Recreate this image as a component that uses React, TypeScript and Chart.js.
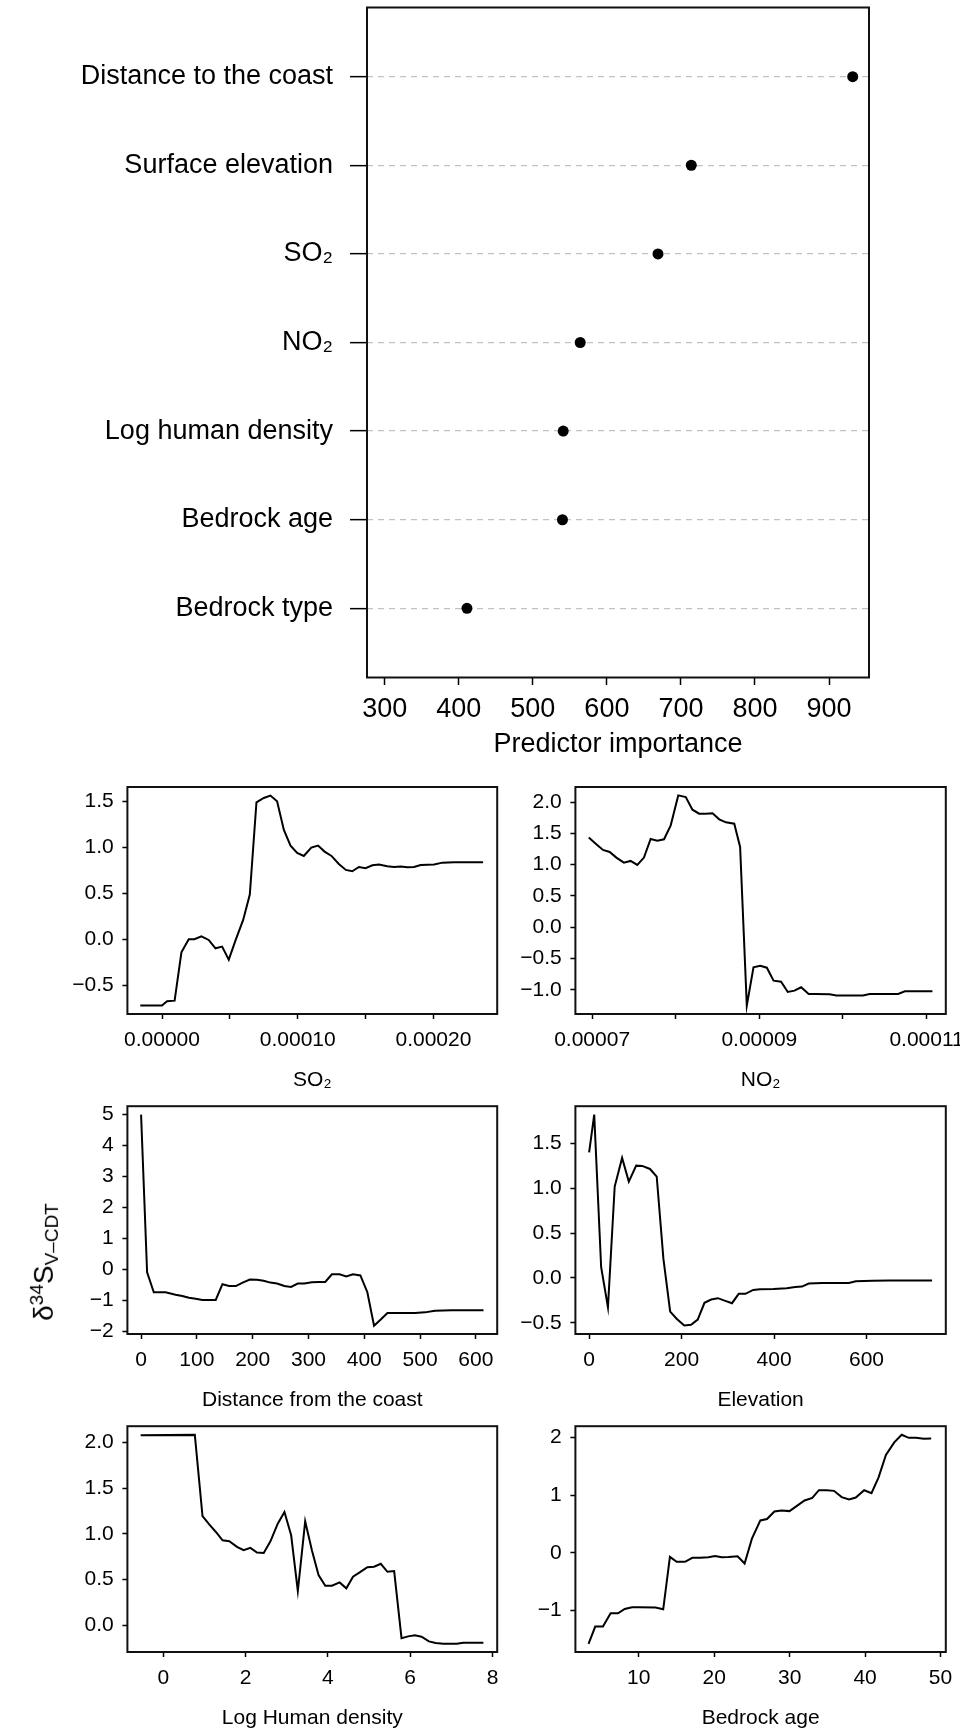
import React, { useEffect, useRef } from "react";
import { Chart, registerables } from "chart.js";

Chart.register(...registerables);

const FONT = "'Liberation Sans', Arial, Helvetica, sans-serif";

// ---------- Top chart: predictor importance ----------
const IMPORTANCE_LABELS = [
  "Distance to the coast",
  "Surface elevation",
  "SO₂",
  "NO₂",
  "Log human density",
  "Bedrock age",
  "Bedrock type",
];
const IMPORTANCE_VALUES = [932, 714, 669, 564, 541, 540, 411];
const IMPORTANCE_TICKS = [300, 400, 500, 600, 700, 800, 900];

// ---------- Partial dependence panels ----------
const SO2_X = [
  -1.6e-5, 0, 0.37e-5, 0.93e-5, 1.43e-5, 1.97e-5, 2.39e-5, 2.9e-5, 3.44e-5, 3.94e-5,
  4.43e-5, 4.92e-5, 5.41e-5, 5.98e-5, 6.47e-5, 6.96e-5, 7.5e-5, 7.99e-5, 8.48e-5, 8.98e-5,
  9.47e-5, 9.96e-5, 10.45e-5, 11.0e-5, 11.5e-5, 11.98e-5, 12.49e-5, 13.03e-5, 13.55e-5, 14.02e-5,
  14.51e-5, 15.0e-5, 15.5e-5, 15.99e-5, 16.6e-5, 17.1e-5, 17.59e-5, 18.08e-5, 18.57e-5, 19.06e-5,
  20.05e-5, 20.66e-5, 21.52e-5, 22.5e-5, 23.66e-5,
];
const SO2_Y = [
  -0.72, -0.72, -0.674, -0.667, -0.141, 0.0, 0.0, 0.033, -0.007, -0.098,
  -0.08, -0.221, -0.014, 0.21, 0.486, 1.489, 1.536, 1.562, 1.5, 1.188,
  1.018, 0.938, 0.906, 0.996, 1.018, 0.953, 0.906, 0.819, 0.754, 0.739,
  0.786, 0.772, 0.804, 0.812, 0.793, 0.786, 0.79, 0.783, 0.786, 0.808,
  0.812, 0.833, 0.837, 0.837, 0.837,
];
const SO2_XTICKS = [0, 5e-5, 1e-4, 1.5e-4, 2e-4];
const SO2_XTICK_LABELS = ["0.00000", "", "0.00010", "", "0.00020"];
const SO2_YTICKS = [-0.5, 0, 0.5, 1, 1.5];
const SO2_YTICK_LABELS = ["−0.5", "0.0", "0.5", "1.0", "1.5"];

const NO2_X = [
  6.96e-5, 7.05e-5, 7.13e-5, 7.21e-5, 7.29e-5, 7.38e-5, 7.46e-5, 7.54e-5, 7.62e-5, 7.7e-5,
  7.78e-5, 7.86e-5, 7.94e-5, 8.03e-5, 8.12e-5, 8.2e-5, 8.28e-5, 8.36e-5, 8.44e-5, 8.52e-5,
  8.6e-5, 8.7e-5, 8.77e-5, 8.85e-5, 8.93e-5, 9.01e-5, 9.09e-5, 9.17e-5, 9.26e-5, 9.34e-5,
  9.42e-5, 9.5e-5, 9.59e-5, 9.67e-5, 9.84e-5, 9.92e-5, 10.08e-5, 10.24e-5, 10.32e-5, 10.48e-5,
  10.66e-5, 10.74e-5, 10.92e-5, 11.07e-5,
];
const NO2_Y = [
  1.432, 1.326, 1.235, 1.203, 1.113, 1.033, 1.06, 0.996, 1.113, 1.41,
  1.384, 1.405, 1.628, 2.106, 2.08, 1.878, 1.814, 1.814, 1.82, 1.724,
  1.676, 1.655, 1.283, -1.25, -0.639, -0.613, -0.645, -0.852, -0.868, -1.032,
  -1.011, -0.958, -1.064, -1.064, -1.07, -1.09, -1.09, -1.09, -1.064, -1.064,
  -1.064, -1.022, -1.022, -1.022,
];
const NO2_XTICKS = [7e-5, 8e-5, 9e-5, 10e-5, 11e-5];
const NO2_XTICK_LABELS = ["0.00007", "", "0.00009", "", "0.00011"];
const NO2_YTICKS = [-1, -0.5, 0, 0.5, 1, 1.5, 2];
const NO2_YTICK_LABELS = ["−1.0", "−0.5", "0.0", "0.5", "1.0", "1.5", "2.0"];

const DIST_X = [
  0, 10.8, 22.8, 43.8, 61.8, 73.8, 85.8, 97.8, 109.8, 133.8,
  145.8, 157.8, 169.8, 183, 195, 207.6, 219.6, 231.5, 243.6, 256.8,
  268.8, 280.8, 292.7, 306, 318, 330, 342, 355.7, 367.7, 379.7,
  393, 405.5, 417.5, 429.5, 441.5, 460.7, 490.7, 508.7, 526.7, 556.7,
  586.7, 613.7,
];
const DIST_Y = [
  5.0, -0.09, -0.73, -0.73, -0.81, -0.85, -0.91, -0.94, -0.98, -0.98,
  -0.47, -0.53, -0.53, -0.41, -0.32, -0.33, -0.36, -0.42, -0.45, -0.53,
  -0.56, -0.45, -0.45, -0.41, -0.4, -0.4, -0.15, -0.15, -0.22, -0.15,
  -0.19, -0.73, -1.81, -1.61, -1.4, -1.4, -1.4, -1.38, -1.33, -1.31,
  -1.31, -1.31,
];
const DIST_XTICKS = [0, 100, 200, 300, 400, 500, 600];
const DIST_XTICK_LABELS = ["0", "100", "200", "300", "400", "500", "600"];
const DIST_YTICKS = [-2, -1, 0, 1, 2, 3, 4, 5];
const DIST_YTICK_LABELS = ["−2", "−1", "0", "1", "2", "3", "4", "5"];

const ELEV_X = [
  0, 11, 26, 40.7, 55.3, 71.3, 85.8, 101.8, 114.9, 131.6,
  146.2, 160.7, 175.3, 189.8, 205.8, 220.4, 234.9, 249.5, 264, 278.5,
  294.5, 309, 323.6, 338.2, 354.9, 369.5, 398.5, 427.6, 445.8, 460.4,
  475, 504, 533, 562, 576.7, 613, 649.5, 685.8, 741.8,
];
const ELEV_Y = [
  1.4, 1.819, 0.12, -0.326, 1.018, 1.337, 1.073, 1.251, 1.248, 1.214,
  1.129, 0.212, -0.374, -0.456, -0.53, -0.522, -0.463, -0.277, -0.24, -0.225,
  -0.255, -0.281, -0.177, -0.177, -0.133, -0.125, -0.122, -0.114, -0.1, -0.096,
  -0.062, -0.055, -0.055, -0.055, -0.036, -0.032, -0.029, -0.029, -0.029,
];
const ELEV_XTICKS = [0, 200, 400, 600];
const ELEV_XTICK_LABELS = ["0", "200", "400", "600"];
const ELEV_YTICKS = [-0.5, 0, 0.5, 1, 1.5];
const ELEV_YTICK_LABELS = ["−0.5", "0.0", "0.5", "1.0", "1.5"];

const HUMAN_X = [
  -0.553, 0.764, 0.951, 1.114, 1.276, 1.439, 1.602, 1.789, 1.951, 2.114,
  2.276, 2.439, 2.602, 2.78, 2.943, 3.106, 3.268, 3.447, 3.61, 3.772,
  3.935, 4.098, 4.285, 4.447, 4.61, 4.772, 4.959, 5.122, 5.285, 5.447,
  5.61, 5.789, 5.951, 6.114, 6.276, 6.455, 6.618, 6.805, 7.13, 7.293,
  7.577, 7.78,
];
const HUMAN_Y = [
  2.08, 2.083, 1.194, 1.103, 1.02, 0.929, 0.918, 0.857, 0.82, 0.846,
  0.795, 0.791, 0.918, 1.111, 1.238, 0.984, 0.374, 1.136, 0.82, 0.548,
  0.432, 0.432, 0.468, 0.403, 0.53, 0.577, 0.635, 0.639, 0.672, 0.584,
  0.592, -0.142, -0.123, -0.112, -0.127, -0.178, -0.196, -0.203, -0.203, -0.192,
  -0.192, -0.192,
];
const HUMAN_XTICKS = [0, 2, 4, 6, 8];
const HUMAN_XTICK_LABELS = ["0", "2", "4", "6", "8"];
const HUMAN_YTICKS = [0, 0.5, 1, 1.5, 2];
const HUMAN_YTICK_LABELS = ["0.0", "0.5", "1.0", "1.5", "2.0"];

const BEDROCK_X = [
  3.34, 4.23, 5.25, 6.27, 7.25, 8.14, 9.11, 10, 12.22, 13.24,
  14.13, 15.02, 16.13, 17.1, 18.12, 19.23, 20.12, 21.0, 21.9, 23.1,
  24.03, 25.0, 26.12, 27.0, 27.98, 28.91, 29.98, 30.87, 31.98, 33.0,
  33.88, 34.9, 35.88, 36.9, 37.88, 38.77, 39.88, 40.85, 41.79, 42.76,
  43.87, 44.85, 45.78, 46.76, 47.78, 48.76,
];
const BEDROCK_Y = [
  -1.575, -1.276, -1.276, -1.046, -1.046, -0.971, -0.943, -0.943, -0.948, -0.977,
  -0.069, -0.155, -0.155, -0.086, -0.086, -0.075, -0.052, -0.075, -0.069, -0.057,
  -0.184, 0.247, 0.563, 0.586, 0.718, 0.736, 0.724, 0.805, 0.908, 0.954,
  1.086, 1.086, 1.075, 0.966, 0.925, 0.96, 1.086, 1.034, 1.31, 1.695,
  1.914, 2.046, 1.994, 1.994, 1.977, 1.983,
];
const BEDROCK_XTICKS = [10, 20, 30, 40, 50];
const BEDROCK_XTICK_LABELS = ["10", "20", "30", "40", "50"];
const BEDROCK_YTICKS = [-1, 0, 1, 2];
const BEDROCK_YTICK_LABELS = ["−1", "0", "1", "2"];

// ---------- helpers ----------
const boxPlugin = {
  id: "frameBox",
  afterDraw(chart: any) {
    const { ctx, chartArea: a } = chart;
    ctx.save();
    ctx.strokeStyle = "#111";
    ctx.lineWidth = 2;
    ctx.strokeRect(a.left, a.top, a.right - a.left, a.bottom - a.top);
    ctx.restore();
  },
};

function pairs(xs: number[], ys: number[]) {
  const n = Math.min(xs.length, ys.length);
  const out: { x: number; y: number }[] = [];
  for (let i = 0; i < n; i++) out.push({ x: xs[i], y: ys[i] });
  return out;
}

function ImportanceChart() {
  const ref = useRef<HTMLCanvasElement>(null);
  useEffect(() => {
    if (!ref.current) return;
    const chart = new Chart(ref.current, {
      type: "scatter",
      data: {
        datasets: [
          {
            data: IMPORTANCE_VALUES.map((v, i) => ({ x: v, y: i + 1 })),
            pointRadius: 5.5,
            pointHoverRadius: 5.5,
            backgroundColor: "#000",
            borderColor: "#000",
            borderWidth: 0,
          },
        ],
      },
      options: {
        responsive: false,
        animation: false,
        events: [],
        layout: { padding: { top: 37.5, right: 91, bottom: 0, left: 0 } },
        plugins: { legend: { display: false }, tooltip: { enabled: false } },
        scales: {
          x: {
            type: "linear",
            min: 276,
            max: 954,
            afterBuildTicks: (s: any) => {
              s.ticks = IMPORTANCE_TICKS.map((v) => ({ value: v }));
            },
            afterFit: (s: any) => {
              s.height = 112.5;
            },
            border: { display: false },
            grid: {
              drawOnChartArea: false,
              drawTicks: true,
              tickLength: 7.5,
              tickColor: "#000",
              tickWidth: 1.5,
            },
            ticks: {
              color: "#000",
              font: { family: FONT, size: 27 },
              padding: 8.8,
              maxRotation: 0,
              callback: (v: any) => String(v),
            },
            title: {
              display: true,
              text: "Predictor importance",
              color: "#000",
              font: { family: FONT, size: 27 },
              padding: { top: 28.8, bottom: 28.8 },
            },
          },
          y: {
            type: "linear",
            min: 0.22,
            max: 7.78,
            reverse: true,
            afterBuildTicks: (s: any) => {
              s.ticks = IMPORTANCE_LABELS.map((_, i) => ({ value: i + 1 }));
            },
            afterFit: (s: any) => {
              s.width = 367;
            },
            border: { display: false, dash: [6, 5] },
            grid: {
              drawOnChartArea: true,
              color: "#c2c2c2",
              lineWidth: 1.3,
              drawTicks: true,
              tickLength: 17,
              tickColor: "#000",
              tickWidth: 1.5,
              tickBorderDash: [],
            },
            ticks: {
              color: "#000",
              font: { family: FONT, size: 27 },
              padding: 17,
              callback: (v: any) => IMPORTANCE_LABELS[Math.round(v) - 1] ?? "",
            },
          },
        },
      },
      plugins: [boxPlugin],
    } as any);
    return () => chart.destroy();
  }, []);
  return (
    <canvas
      ref={ref}
      width={960}
      height={820}
      style={{ position: "absolute", left: 0, top: -30, width: 960, height: 820 }}
    />
  );
}

type PanelCfg = {
  left: number;
  top: number;
  width: number;
  height: number;
  padTop: number;
  padRight: number;
  yAxisWidth: number;
  xAxisHeight: number;
  xMin: number;
  xMax: number;
  yMin: number;
  yMax: number;
  xs: number[];
  ys: number[];
  xTicks: number[];
  xLabels: string[];
  yTicks: number[];
  yLabels: string[];
  title: string;
};

function Panel({ cfg }: { cfg: PanelCfg }) {
  const ref = useRef<HTMLCanvasElement>(null);
  useEffect(() => {
    if (!ref.current) return;
    const chart = new Chart(ref.current, {
      type: "line",
      data: {
        datasets: [
          {
            data: pairs(cfg.xs, cfg.ys),
            borderColor: "#000",
            borderWidth: 2,
            pointRadius: 0,
            tension: 0,
            fill: false,
          },
        ],
      },
      options: {
        responsive: false,
        animation: false,
        events: [],
        layout: { padding: { top: cfg.padTop, right: cfg.padRight, bottom: 0, left: 0 } },
        plugins: { legend: { display: false }, tooltip: { enabled: false } },
        scales: {
          x: {
            type: "linear",
            min: cfg.xMin,
            max: cfg.xMax,
            afterBuildTicks: (s: any) => {
              s.ticks = cfg.xTicks.map((v) => ({ value: v }));
            },
            afterFit: (s: any) => {
              s.height = cfg.xAxisHeight;
            },
            border: { display: false },
            grid: {
              drawOnChartArea: false,
              drawTicks: true,
              tickLength: 5,
              tickColor: "#000",
              tickWidth: 1.5,
            },
            ticks: {
              color: "#000",
              font: { family: FONT, size: 21 },
              padding: 8.4,
              maxRotation: 0,
              autoSkip: false,
              callback: (_v: any, i: number) => cfg.xLabels[i] ?? "",
            },
            title: {
              display: true,
              text: cfg.title,
              color: "#000",
              font: { family: FONT, size: 21 },
              padding: { top: 2.4, bottom: 2.4 },
            },
          },
          y: {
            type: "linear",
            min: cfg.yMin,
            max: cfg.yMax,
            afterBuildTicks: (s: any) => {
              s.ticks = cfg.yTicks.map((v) => ({ value: v }));
            },
            afterFit: (s: any) => {
              s.width = cfg.yAxisWidth;
            },
            border: { display: false },
            grid: {
              drawOnChartArea: false,
              drawTicks: true,
              tickLength: 5,
              tickColor: "#000",
              tickWidth: 1.5,
            },
            ticks: {
              color: "#000",
              font: { family: FONT, size: 21 },
              padding: 8.6,
              autoSkip: false,
              callback: (_v: any, i: number) => cfg.yLabels[i] ?? "",
            },
          },
        },
      },
      plugins: [boxPlugin],
    } as any);
    return () => chart.destroy();
  }, [cfg]);
  return (
    <canvas
      ref={ref}
      width={cfg.width}
      height={cfg.height}
      style={{
        position: "absolute",
        left: cfg.left,
        top: cfg.top,
        width: cfg.width,
        height: cfg.height,
      }}
    />
  );
}

// Layout: left column box x 127.4–497.2, right column box x 575.4–945.8
const LEFT_COL = { left: 40, width: 480, yAxisWidth: 87.4, padRight: 22.8 };
const RIGHT_COL = { left: 505, width: 485, yAxisWidth: 70.4, padRight: 44.2 };
const ROW1 = { top: 765, height: 330, padTop: 22, xAxisHeight: 81 };
const ROW2 = { top: 1085, height: 330, padTop: 21, xAxisHeight: 81 };
const ROW3 = { top: 1405, height: 328, padTop: 20, xAxisHeight: 81 };

const PANELS: PanelCfg[] = [
  {
    ...LEFT_COL, ...ROW1,
    xMin: -2.55e-5, xMax: 2.47e-4, yMin: -0.812, yMax: 1.655,
    xs: SO2_X, ys: SO2_Y, xTicks: SO2_XTICKS, xLabels: SO2_XTICK_LABELS,
    yTicks: SO2_YTICKS, yLabels: SO2_YTICK_LABELS, title: "SO₂",
  },
  {
    ...RIGHT_COL, ...ROW1,
    xMin: 6.8e-5, xMax: 11.23e-5, yMin: -1.384, yMax: 2.24,
    xs: NO2_X, ys: NO2_Y, xTicks: NO2_XTICKS, xLabels: NO2_XTICK_LABELS,
    yTicks: NO2_YTICKS, yLabels: NO2_YTICK_LABELS, title: "NO₂",
  },
  {
    ...LEFT_COL, ...ROW2,
    xMin: -24.5, xMax: 638.2, yMin: -2.078, yMax: 5.272,
    xs: DIST_X, ys: DIST_Y, xTicks: DIST_XTICKS, xLabels: DIST_XTICK_LABELS,
    yTicks: DIST_YTICKS, yLabels: DIST_YTICK_LABELS, title: "Distance from the coast",
  },
  {
    ...RIGHT_COL, ...ROW2,
    xMin: -29.7, xMax: 771.5, yMin: -0.624, yMax: 1.913,
    xs: ELEV_X, ys: ELEV_Y, xTicks: ELEV_XTICKS, xLabels: ELEV_XTICK_LABELS,
    yTicks: ELEV_YTICKS, yLabels: ELEV_YTICK_LABELS, title: "Elevation",
  },
  {
    ...LEFT_COL, ...ROW3,
    xMin: -0.875, xMax: 8.115, yMin: -0.294, yMax: 2.178,
    xs: HUMAN_X, ys: HUMAN_Y, xTicks: HUMAN_XTICKS, xLabels: HUMAN_XTICK_LABELS,
    yTicks: HUMAN_YTICKS, yLabels: HUMAN_YTICK_LABELS, title: "Log Human density",
  },
  {
    ...RIGHT_COL, ...ROW3,
    xMin: 1.6, xMax: 50.7, yMin: -1.717, yMax: 2.195,
    xs: BEDROCK_X, ys: BEDROCK_Y, xTicks: BEDROCK_XTICKS, xLabels: BEDROCK_XTICK_LABELS,
    yTicks: BEDROCK_YTICKS, yLabels: BEDROCK_YTICK_LABELS, title: "Bedrock age",
  },
];

export default function App() {
  return (
    <div
      style={{
        position: "absolute",
        left: 0,
        top: 0,
        width: 960,
        height: 1733,
        overflow: "hidden",
        background: "#fff",
      }}
    >
      <ImportanceChart />
      {PANELS.map((p, i) => (
        <Panel key={i} cfg={p} />
      ))}
      <div
        style={{
          position: "absolute",
          left: 44,
          top: 1262,
          transform: "translate(-50%, -50%) rotate(-90deg)",
          fontFamily: FONT,
          fontSize: 28,
          whiteSpace: "nowrap",
          color: "#000",
          lineHeight: 1,
        }}
      >
        δ<sup style={{ fontSize: 19, verticalAlign: "0.55em" }}>34</sup>S
        <sub style={{ fontSize: 19, verticalAlign: "-0.25em" }}>V–CDT</sub>
      </div>
    </div>
  );
}
